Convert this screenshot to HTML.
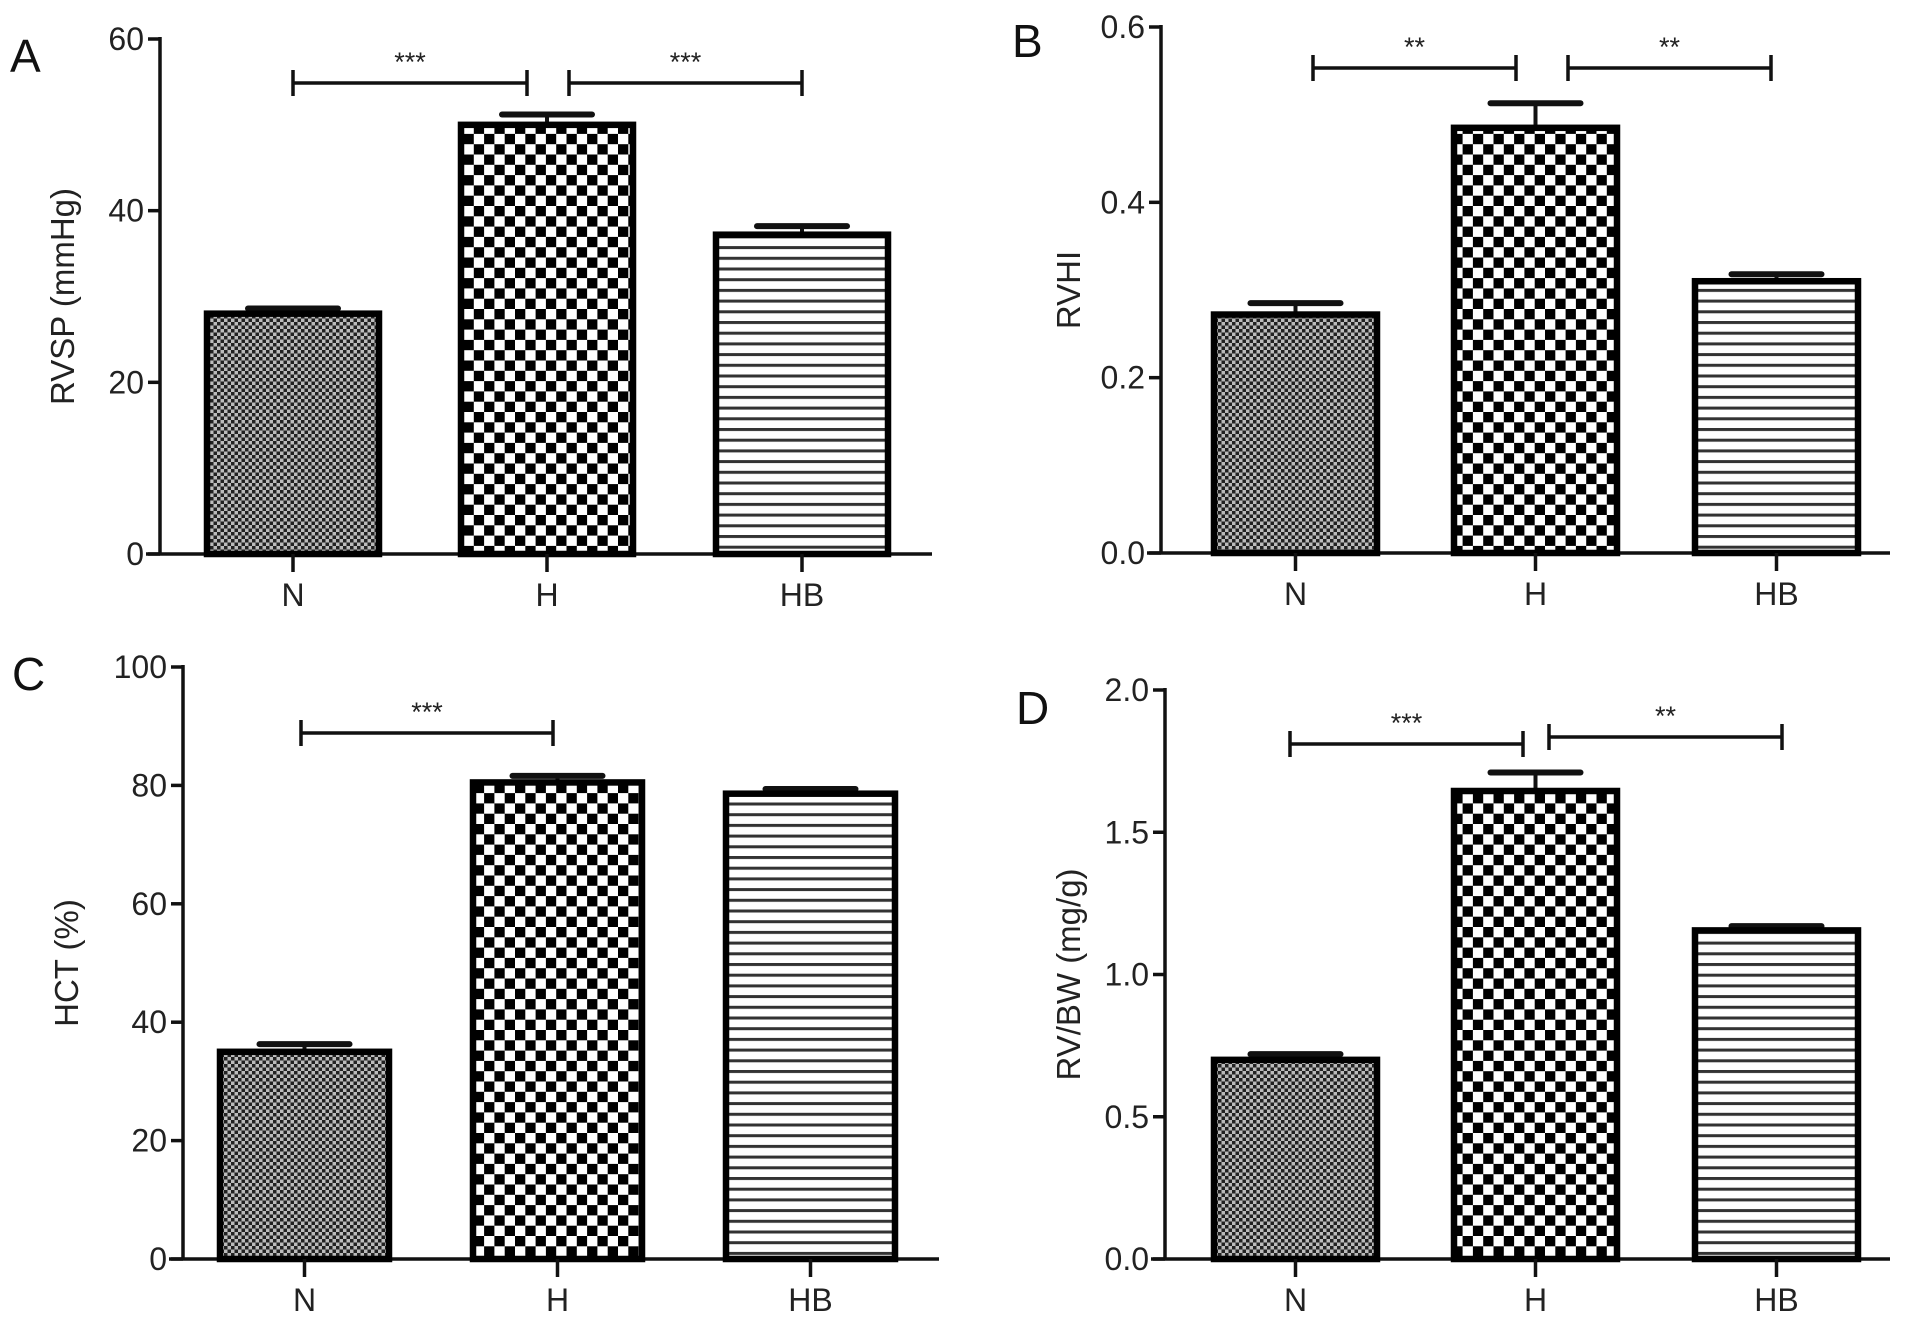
<!DOCTYPE html>
<html><head><meta charset="utf-8"><style>
html,body{margin:0;padding:0;background:#fff;}
svg{display:block;font-family:"Liberation Sans",sans-serif;}
</style></head><body>
<svg id="fig" width="1913" height="1330" viewBox="0 0 1913 1330">
<defs>
<pattern id="pN" width="7" height="7" patternUnits="userSpaceOnUse"><rect width="7" height="7" fill="#bbb"/><rect width="3.5" height="3.5" fill="#222"/><rect x="3.5" y="3.5" width="3.5" height="3.5" fill="#222"/></pattern>
<pattern id="pH" width="20.6" height="20.6" patternUnits="userSpaceOnUse"><rect width="20.6" height="20.6" fill="#fff"/><rect width="10.3" height="10.3" fill="#000"/><rect x="10.3" y="10.3" width="10.3" height="10.3" fill="#000"/></pattern>
<pattern id="pHB" width="10" height="10.7" patternUnits="userSpaceOnUse"><rect width="10" height="10.7" fill="#fff"/><rect y="0" width="10" height="3" fill="#333"/></pattern>
</defs>
</svg>
<script>
const categories = ["N","H","HB"];
const rvspValues = [28, 50, 37.2];
const rvspErrors = [0.6, 1.2, 1.0];
const rvhiValues = [0.272, 0.485, 0.31];
const rvhiErrors = [0.013, 0.028, 0.008];
const hctValues = [35, 80.5, 78.6];
const hctErrors = [1.3, 1.1, 0.8];
const rvbwValues = [0.70, 1.645, 1.155];
const rvbwErrors = [0.02, 0.065, 0.015];
const rvspTicks = ["0","20","40","60"];
const rvhiTicks = ["0.0","0.2","0.4","0.6"];
const hctTicks = ["0","20","40","60","80","100"];
const rvbwTicks = ["0.0","0.5","1.0","1.5","2.0"];

const NS="http://www.w3.org/2000/svg";
const svg=document.getElementById('fig');
function mk(tag,attrs,parent){const e=document.createElementNS(NS,tag);for(const k in attrs)e.setAttribute(k,attrs[k]);(parent||svg).appendChild(e);return e;}
const fills=["url(#pN)","url(#pH)","url(#pHB)"];

function panel(p){
  const g=mk('g',{});
  
  
  const y=v=>p.y0-(v-p.min)/(p.max-p.min)*(p.y0-p.yTop);
  const L=mk('text',{x:p.lx,y:p.ly,'font-size':46,fill:'#111'},g);L.textContent=p.letter;
  
  
  const ya=mk('line',{x1:p.ax,y1:p.yTop-2,x2:p.ax,y2:p.y0+1.5,stroke:'#111','stroke-width':3.5},g);
  
  
  const n=p.ticks.length;
  for(let i=0;i<n;i++){
    const v=p.min+(p.max-p.min)*i/(n-1);const ty=y(v);
    mk('line',{x1:p.ax-12,y1:ty,x2:p.ax,y2:ty,stroke:'#111','stroke-width':3.5},g);
    const t=mk('text',{x:p.ax-16,y:ty+11,'font-size':32,'text-anchor':'end',fill:'#222'},g);t.textContent=p.ticks[i];
    
    
  }
  const tt=mk('text',{x:0,y:0,'font-size':33,'text-anchor':'middle',fill:'#222',transform:`translate(${p.titleX},${(p.yTop+p.y0)/2}) rotate(-90)`},g);
  tt.textContent=p.title;
  
  
  const xa=mk('line',{x1:p.ax-14,y1:p.y0,x2:p.xEnd,y2:p.y0,stroke:'#111','stroke-width':3.5},g);
  
  
  p.values.forEach((v,i)=>{
    const bx=p.bx[i],bw=p.bw,cx=bx+bw/2;
    const top=y(v),et=y(v+p.errors[i]);
    const eb=mk('line',{x1:cx,y1:et,x2:cx,y2:top,stroke:'#111','stroke-width':4},g);
    
    
    const cap=mk('line',{x1:cx-45,y1:et,x2:cx+45,y2:et,stroke:'#111','stroke-width':6,'stroke-linecap':'round'},g);
    
    
    const r=mk('rect',{x:bx,y:top,width:bw,height:p.y0-top,fill:fills[i],stroke:'#000','stroke-width':6.5},g);
    
    
    mk('line',{x1:cx,y1:p.y0,x2:cx,y2:p.y0+18,stroke:'#111','stroke-width':3.5},g);
    const cl=mk('text',{x:cx,y:p.y0+52,'font-size':32,'text-anchor':'middle',fill:'#222'},g);cl.textContent=categories[i];
    
    
  });
  p.brackets.forEach(b=>{
    const bg=mk('g',{},g);
    
    
    mk('line',{x1:b[0],y1:b[2],x2:b[1],y2:b[2],stroke:'#111','stroke-width':3.5},bg);
    mk('line',{x1:b[0],y1:b[2]-13,x2:b[0],y2:b[2]+13,stroke:'#111','stroke-width':3.5},bg);
    mk('line',{x1:b[1],y1:b[2]-13,x2:b[1],y2:b[2]+13,stroke:'#111','stroke-width':3.5},bg);
    const s=mk('text',{x:(b[0]+b[1])/2,y:b[2]-12,'font-size':27,'text-anchor':'middle',fill:'#222'},bg);s.textContent=b[3];
  });
}
panel({letter:'A',lx:10,ly:72,ax:160,yTop:39,y0:554,xEnd:932,min:0,max:60,ticks:rvspTicks,title:'RVSP (mmHg)',titleX:74,
  values:rvspValues,errors:rvspErrors,bx:[207,461,716],bw:172,
  brackets:[[293,527,83,'***'],[569,802,83,'***']]});
panel({letter:'B',lx:1012,ly:57,ax:1161,yTop:27,y0:553,xEnd:1890,min:0,max:0.6,ticks:rvhiTicks,title:'RVHI',titleX:1080,
  values:rvhiValues,errors:rvhiErrors,bx:[1214,1454,1695],bw:163,
  brackets:[[1313,1516,68,'**'],[1568,1771,68,'**']]});
panel({letter:'C',lx:12,ly:690,ax:183,yTop:667,y0:1259,xEnd:939,min:0,max:100,ticks:hctTicks,title:'HCT (%)',titleX:78,
  values:hctValues,errors:hctErrors,bx:[220,473,726],bw:169,
  brackets:[[301,553,733,'***']]});
panel({letter:'D',lx:1016,ly:724,ax:1165,yTop:690,y0:1259,xEnd:1890,min:0,max:2,ticks:rvbwTicks,title:'RV/BW (mg/g)',titleX:1080,
  values:rvbwValues,errors:rvbwErrors,bx:[1214,1454,1695],bw:163,
  brackets:[[1290,1523,744,'***'],[1549,1782,737,'**']]});
</script>
</body></html>
